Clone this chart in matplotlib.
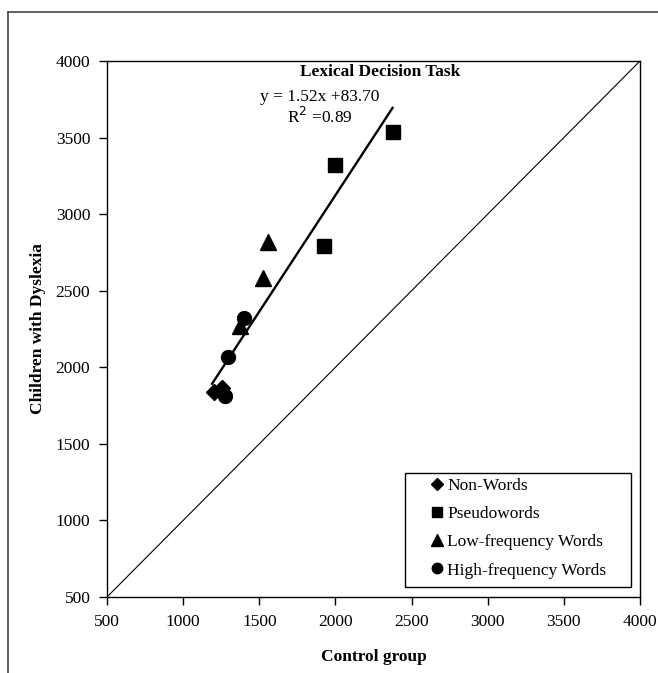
import matplotlib
matplotlib.use("Agg")
import matplotlib.pyplot as plt
from matplotlib.lines import Line2D
from matplotlib.patches import Rectangle
import numpy as np

plt.rcParams['font.family'] = ['Liberation Serif', 'DejaVu Serif']

# Data (Control group RT, Children with Dyslexia RT)
nonwords_x = [1200, 1255, 1265]
nonwords_y = [1840, 1865, 1835]
pseudo_x = [1925, 2000, 2375]
pseudo_y = [2790, 3320, 3535]
lowfreq_x = [1375, 1525, 1560]
lowfreq_y = [2270, 2580, 2815]
highfreq_x = [1275, 1295, 1400]
highfreq_y = [1810, 2070, 2325]

slope, intercept = 1.52, 83.70
fit_x_range = [1190, 2375]
axis_ticks = [500, 1000, 1500, 2000, 2500, 3000, 3500, 4000]

fig = plt.figure(figsize=(6.58, 6.73), dpi=100)
W, H = 658, 673
ax = fig.add_axes([107 / W, 1 - 597 / H, (640 - 107) / W, (597 - 61) / H])

# identity line
ax.plot([500, 4000], [500, 4000], color='black', lw=0.8, zorder=1)
# regression line
fx = np.array(fit_x_range)
ax.plot(fx, slope * fx + intercept, color='black', lw=1.7, zorder=2)

ax.plot(nonwords_x, nonwords_y, 'D', color='black', ms=8, ls='none', label='Non-Words', zorder=3)
ax.plot(pseudo_x, pseudo_y, 's', color='black', ms=10, ls='none', label='Pseudowords', zorder=3)
ax.plot(lowfreq_x, lowfreq_y, '^', color='black', ms=11, ls='none', label='Low-frequency Words', zorder=3)
ax.plot(highfreq_x, highfreq_y, 'o', color='black', ms=10, ls='none', label='High-frequency Words', zorder=3)

ax.set_xlim(500, 4000)
ax.set_ylim(500, 4000)
ax.set_xticks(axis_ticks)
ax.set_yticks(axis_ticks)
ax.tick_params(direction='out', length=6, width=1, labelsize=12.5, pad=6)
for s in ax.spines.values():
    s.set_linewidth(1)
    s.set_color('black')

ax.text(0.5125, 0.979, 'Lexical Decision Task', transform=ax.transAxes,
        ha='center', va='center', fontsize=12.5, fontweight='bold')
ax.set_xlabel('Control group', fontsize=12.5, fontweight='bold')
ax.xaxis.set_label_coords(0.5, (597 - 657) / 536)
ax.xaxis.label.set_va('center')
ax.set_ylabel('Children with Dyslexia', fontsize=12.5, fontweight='bold')
ax.yaxis.set_label_coords((38 - 107) / 533, 0.5)
ax.yaxis.label.set_va('center')

ax.text(1895, 3765, 'y = 1.52x +83.70', ha='center', va='center', fontsize=12.5)
ax.text(1895, 3635, r'R$^2$ =0.89', ha='center', va='center', fontsize=12.5)

# legend box (frame drawn separately to match the wide padding of the original)
ax.add_patch(Rectangle(((405 - 107) / 533, (597 - 587) / 536), 226 / 533, 114 / 536,
                       transform=ax.transAxes, fill=True, facecolor='white',
                       edgecolor='black', lw=1, zorder=4))
leg = ax.legend(loc='center left', bbox_to_anchor=((430 - 107) / 533, (597 - 528) / 536),
                frameon=False, fontsize=12.5, markerscale=0.75,
                handlelength=0.8, handletextpad=0.2, labelspacing=0.7,
                borderpad=0, borderaxespad=0)
leg.set_zorder(5)

# outer frame (left and top edges)
fig.add_artist(Line2D([8 / W, 8 / W], [0, 1 - 12 / H], color='#444444', lw=1.2, transform=fig.transFigure))
fig.add_artist(Line2D([8 / W, 1], [1 - 12 / H, 1 - 12 / H], color='#444444', lw=1.2, transform=fig.transFigure))

fig.savefig('out.png', dpi=100)
